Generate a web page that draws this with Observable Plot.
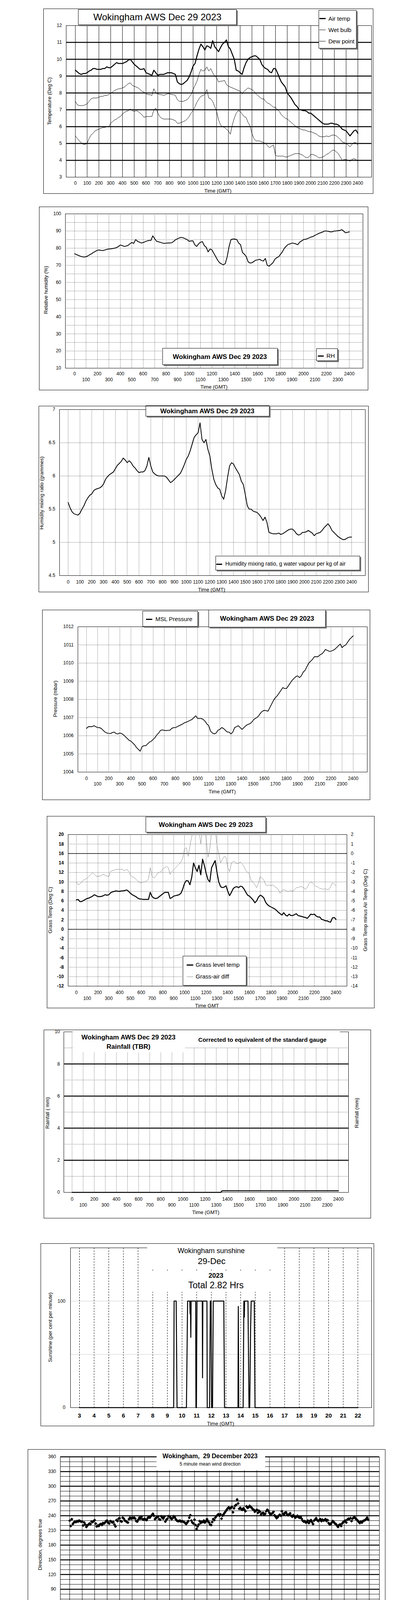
<!DOCTYPE html>
<html><head><meta charset="utf-8">
<script src="https://cdn.jsdelivr.net/npm/d3@7"></script>
<script src="https://cdn.jsdelivr.net/npm/@observablehq/plot@0.6"></script>
<style>
body{margin:0;background:#fff;}
#page{position:relative;width:1050px;height:5085px;overflow:hidden;background:#fff;font-family:'Liberation Sans',Arial,Helvetica,sans-serif;}
</style></head><body><div id="page"></div>
<script>
// ---------------- DATA ----------------
// 10-minute samples 00:00 .. 24:00 (145 values each)
const airTemp = [
9.35,9.25,9.15,9.1,9.15,9.15, 9.2,9.3,9.35,9.45,9.45,9.4, 9.4,9.4,9.45,9.45,9.55,9.5,
9.5,9.6,9.7,9.8,9.75,9.75, 9.75,9.8,9.85,9.95,10.0,9.85, 9.7,9.6,9.5,9.4,9.4,9.45,
9.2,9.15,9.1,9.05,9.35,9.2, 9.05,9.1,9.1,9.1,9.15,9.2, 9.2,9.2,9.15,9.1,8.65,8.55,
8.5,8.55,8.65,8.75,8.95,9.25, 9.6,9.75,10.2,10.6,10.9,10.75, 10.55,10.8,10.75,10.65,11.1,10.75,
10.6,10.45,10.7,10.9,11.0,11.15, 10.75,10.6,10.3,10.0,9.35,9.3, 9.2,9.1,9.5,9.8,10.0,10.1,
10.15,10.2,10.2,10.1,10.0,9.7, 9.55,9.45,9.4,9.25,9.2,9.45, 9.45,9.2,8.9,8.65,8.5,8.35,
8.0,7.85,7.7,7.5,7.3,7.2, 7.0,7.0,6.95,6.95,6.9,6.8, 6.8,6.7,6.6,6.5,6.4,6.3,
6.2,6.15,6.15,6.15,6.2,6.2, 6.15,6.15,6.1,6.0,5.85,5.8, 5.75,5.6,5.45,5.6,5.75,5.8, 5.6];
const wetBulb = [
7.5,7.3,7.25,7.25,7.25,7.3, 7.35,7.5,7.65,7.7,7.7,7.7, 7.75,7.8,7.8,7.85,7.85,7.9,
8.0,8.05,8.15,8.2,8.25,8.25, 8.3,8.35,8.45,8.55,8.6,8.45, 8.4,8.35,8.3,8.2,8.1,8.05,
7.95,7.9,7.9,7.85,8.25,8.0, 7.95,7.9,7.9,7.85,7.9,7.95, 7.95,7.9,7.9,7.85,7.6,7.5,
7.5,7.5,7.55,7.6,7.75,7.9, 8.2,8.45,8.7,9.1,9.4,9.3, 9.35,9.55,9.3,9.45,9.2,9.0,
8.9,8.65,8.7,8.7,8.75,8.5, 8.4,8.35,8.3,8.25,8.2,8.15, 8.1,7.95,8.1,8.2,8.3,8.25,
8.2,8.1,7.95,7.85,7.75,7.65, 7.65,7.5,7.4,7.35,7.25,7.15, 7.15,7.0,6.9,6.7,6.6,6.5,
6.45,6.35,6.25,6.15,6.05,5.95, 5.9,5.85,5.8,5.8,5.75,5.7, 5.7,5.65,5.6,5.55,5.45,5.4,
5.4,5.4,5.45,5.4,5.45,5.5, 5.5,5.45,5.35,5.25,5.1,5.05, 5.0,4.9,4.8,4.95,5.05,5.05, 4.9];
const dewPoint = [
5.45,5.3,5.15,5.05,4.95,4.95, 5.0,5.3,5.5,5.6,5.75,5.8, 5.85,5.9,5.95,5.95,6.0,6.0,
6.2,6.3,6.4,6.45,6.55,6.6, 6.75,6.85,6.9,6.95,7.05,6.95, 6.9,6.95,6.9,6.8,6.7,6.55,
6.6,6.6,6.6,6.6,7.0,7.1, 6.8,6.6,6.5,6.45,6.45,6.45, 6.45,6.45,6.4,6.35,6.2,6.2,
6.25,6.3,6.35,6.45,6.6,6.8, 6.95,7.2,7.45,7.65,7.8,7.85, 7.9,8.2,7.7,7.65,7.5,7.2,
6.9,6.4,6.1,6.0,5.95,5.85, 5.75,5.55,6.1,6.5,6.8,6.95, 6.9,6.75,6.6,6.55,6.25,6.05,
5.6,5.3,5.15,5.15,5.15,5.1, 5.05,5.0,4.85,4.75,4.85,4.9, 4.3,4.25,4.25,4.25,4.25,4.2,
4.2,4.25,4.3,4.35,4.4,4.4, 4.4,4.35,4.3,4.2,4.15,4.2, 4.35,4.35,4.3,4.25,4.15,4.15,
4.2,4.25,4.35,4.4,4.5,4.6, 4.6,4.5,4.4,4.2,4.0,4.05, 4.05,4.0,3.95,4.05,4.1,4.05, 3.95];
const relHumidity = [
76.8,76.2,75.8,75.3,75.0,74.8, 75.0,75.5,76.2,76.8,77.6,78.2, 78.8,78.9,78.7,78.6,79.0,79.3,
79.5,79.6,79.8,80.0,80.3,81.0, 81.8,81.5,81.0,81.2,81.6,82.5, 83.3,82.8,85.0,84.0,83.5,83.0,
83.3,83.8,84.2,84.5,84.5,87.2, 85.5,84.0,83.7,83.4,83.0,82.8, 82.9,83.0,83.0,83.2,84.0,85.0,
85.5,86.0,86.3,86.0,85.5,85.0, 84.0,84.2,84.3,82.0,81.0,82.5, 83.5,83.8,81.5,80.5,77.8,79.5,
79.0,77.0,75.0,73.0,71.5,70.8, 70.3,71.0,75.0,81.0,85.0,85.3, 85.3,85.0,83.0,82.0,77.5,76.5,
75.0,72.0,71.3,71.5,72.3,73.0, 73.2,73.5,72.8,72.5,74.0,70.0, 69.5,70.5,71.5,73.5,74.5,75.0,
76.5,78.0,80.0,81.2,82.2,82.5, 83.0,82.8,82.5,82.0,83.5,84.2, 85.0,85.2,85.5,86.0,86.5,86.8,
87.5,88.0,88.6,89.0,89.4,90.0, 90.0,89.8,89.5,89.5,90.0,90.0, 90.2,90.3,90.8,90.0,89.0,89.2, 89.5];
const mixingRatio = [
5.6,5.52,5.46,5.43,5.42,5.41, 5.44,5.5,5.55,5.62,5.67,5.71, 5.73,5.78,5.8,5.81,5.82,5.84,
5.88,5.95,5.99,6.02,6.04,6.06, 6.11,6.16,6.19,6.22,6.27,6.24, 6.2,6.23,6.2,6.15,6.12,6.08,
6.05,6.06,6.06,6.08,6.15,6.28, 6.15,6.06,6.03,6.01,6.0,6.0, 6.0,6.0,5.98,5.94,5.9,5.92,
5.95,5.98,6.01,6.04,6.1,6.17, 6.25,6.3,6.38,6.48,6.58,6.62, 6.65,6.8,6.55,6.5,6.55,6.4,
6.3,6.1,5.95,5.87,5.82,5.8, 5.7,5.65,5.78,5.98,6.15,6.2, 6.18,6.12,6.07,6.02,5.92,5.87,
5.72,5.55,5.5,5.5,5.47,5.46, 5.45,5.42,5.38,5.33,5.38,5.3, 5.15,5.14,5.13,5.13,5.13,5.14,
5.12,5.13,5.15,5.17,5.19,5.2, 5.2,5.17,5.13,5.11,5.12,5.15, 5.15,5.16,5.18,5.16,5.14,5.1,
5.13,5.14,5.15,5.18,5.22,5.25, 5.28,5.24,5.18,5.15,5.12,5.09, 5.07,5.05,5.04,5.05,5.07,5.08, 5.08];
const mslPressure = [
1006.4,1006.5,1006.5,1006.5,1006.55,1006.5, 1006.45,1006.45,1006.4,1006.3,1006.2,1006.15,
1006.13,1006.12,1006.18,1006.2,1006.12,1006.1, 1006.15,1006.12,1006.05,1005.95,1005.85,1005.75,
1005.7,1005.6,1005.5,1005.35,1005.25,1005.15, 1005.4,1005.45,1005.45,1005.55,1005.65,1005.7,
1005.8,1005.9,1006.05,1006.15,1006.3,1006.32, 1006.3,1006.28,1006.3,1006.3,1006.4,1006.45,
1006.45,1006.5,1006.55,1006.6,1006.65,1006.72, 1006.75,1006.8,1006.85,1006.9,1007.0,1007.1,
1006.95,1006.95,1006.95,1006.9,1006.8,1006.65, 1006.55,1006.25,1006.15,1006.1,1006.15,1006.3,
1006.35,1006.45,1006.4,1006.3,1006.2,1006.2, 1006.1,1006.2,1006.45,1006.5,1006.55,1006.45,
1006.35,1006.45,1006.55,1006.62,1006.65,1006.72, 1006.85,1006.95,1007.0,1007.1,1007.25,1007.35,
1007.4,1007.38,1007.35,1007.55,1007.75,1007.95, 1008.1,1008.2,1008.35,1008.5,1008.65,1008.6,
1008.6,1008.75,1008.9,1009.05,1009.15,1009.25, 1009.3,1009.2,1009.3,1009.5,1009.6,1009.8,
1010.0,1010.1,1010.2,1010.35,1010.35,1010.35, 1010.45,1010.5,1010.6,1010.75,1010.7,1010.65,
1010.65,1010.7,1010.75,1010.85,1010.95,1011.05, 1010.85,1010.95,1011.0,1011.15,1011.3,1011.4, 1011.5];
const grassTemp = [
6.2,6.3,5.85,5.85,6.1,6.3, 6.5,6.6,6.8,7.0,7.3,7.1, 6.9,6.9,6.95,7.1,7.3,7.2,
7.3,7.7,7.9,8.0,8.1,8.05, 8.0,8.1,8.1,8.2,8.3,8.0, 7.6,7.3,7.1,6.9,6.6,6.4,
6.4,6.3,6.3,6.3,6.3,7.8, 6.9,6.6,6.5,6.6,6.9,7.2, 7.5,7.8,7.8,7.8,6.5,6.7,
7.0,7.1,7.2,7.3,7.6,8.5, 9.7,10.3,10.2,9.4,11.0,14.0, 13.0,12.2,13.5,11.5,14.8,13.5,
11.8,10.5,10.0,13.0,13.8,14.5, 12.0,10.0,9.0,8.8,8.9,9.2, 8.0,7.1,7.8,8.6,8.9,9.0,
8.8,9.1,9.0,8.5,7.8,7.2, 7.0,6.6,6.2,5.6,6.0,6.8, 7.2,7.0,6.6,5.7,5.2,4.9,
4.7,4.5,4.3,4.0,3.6,3.3, 3.0,3.5,3.0,2.8,3.2,2.9, 2.9,3.1,3.3,2.9,2.8,2.7,
2.6,2.5,2.3,2.7,3.2,3.1, 3.2,2.8,2.6,2.6,2.1,2.0, 1.8,1.8,1.6,1.5,2.4,2.5, 2.1];
const grassAirDiff = [
-3.0,-3.3,-3.2,-3.0,-2.8,-2.7, -2.6,-2.4,-2.2,-2.0,-2.2,-2.4, -2.4,-2.4,-2.3,-2.2,-2.3,-2.4,
-2.4,-1.9,-1.8,-1.75,-1.7,-1.65, -1.7,-1.65,-1.75,-1.8,-1.65,-1.9, -2.3,-2.45,-2.55,-2.7,-2.9,-3.05,
-3.1,-3.0,-3.0,-2.9,-2.7,-1.5, -2.4,-2.6,-2.4,-2.1,-2.0,-1.9, -1.6,-1.5,-1.35,-1.5,-2.2,-1.9,
-1.7,-1.5,-1.3,-1.1,-0.9,-0.5, 0.5,0.6,-0.3,0.8,1.8,2.6, 2.8,2.4,2.6,1.0,2.5,2.7,
1.6,-0.4,0.5,2.3,2.7,2.6, 0.8,0.0,-1.0,-0.6,-0.3,-0.4, -1.5,-1.9,-1.0,-0.8,-0.9,-1.1,
-1.0,-0.9,-1.1,-1.4,-1.8,-2.0, -2.2,-2.9,-3.0,-3.3,-3.6,-3.1, -2.4,-2.6,-2.8,-3.3,-3.4,-3.3,
-3.4,-3.3,-3.5,-3.6,-3.8,-4.2, -3.9,-3.8,-3.9,-4.0,-4.0,-3.9, -4.0,-3.8,-3.6,-3.6,-3.5,-3.5,
-3.6,-3.8,-3.6,-3.2,-3.0,-3.1, -3.3,-3.5,-3.5,-3.7,-3.7,-3.8, -3.7,-3.8,-3.8,-3.5,-3.1,-3.2, -3.4];
// rainfall (cumulative, mm) at times in hhmm-scale
const rainTimes = [0, 1340, 1352, 2400];
const rainValues = [0, 0, 0.1, 0.1];
// sunshine, per cent per minute, at decimal hours
const sunHours = [3,9.43,9.46,9.6,9.62,9.66,10.3,10.38,10.53,10.55,10.57,10.6,10.62,10.93,10.95,10.98,11.02,11.38,11.4,11.42,11.7,11.72,11.88,11.93,11.98,12.02,12.08,12.13,12.85,12.9,13.82,13.84,13.87,14.17,14.22,14.25,14.27,14.3,14.5,14.57,14.62,14.68,14.72,14.93,14.98,22];
const sunPct = [0,0,100,100,68,0,0,100,100,88,100,66,100,100,0,0,100,100,28,100,100,0,0,100,100,0,0,100,100,0,0,95,0,0,100,85,100,100,100,0,0,75,100,100,0,0];
// 5-minute mean wind direction (288 values)
const windDir = [
230,219,233,223,226,228,227,229,228,230,229,228, 228,220,226,222,217,220,222,224,223,228,227,229,
231,224,218,220,219,222,223,221,225,224,226,229, 230,226,224,229,228,226,227,222,218,231,229,234,
235,229,228,236,234,230,229,227,226,233,236,234, 236,235,236,234,229,228,232,236,234,238,233,232,
234,232,231,235,238,236,239,241,244,240,233,236, 237,238,233,232,239,236,234,238,228,232,234,239,
238,236,233,235,239,237,233,230,229,229,230,228, 229,228,227,225,223,226,229,236,241,230,226,224,
232,221,213,218,222,229,225,228,227,230,226,229, 233,229,226,222,221,227,233,231,236,239,241,243,
240,243,234,240,243,246,249,252,255,257,254,256, 258,247,255,260,262,273,265,254,256,253,252,255,
252,249,259,256,257,260,258,256,253,252,248,250, 252,246,250,248,243,245,246,242,244,249,252,250,
246,243,244,245,248,241,238,235,237,240,242,240, 249,244,242,246,247,243,241,243,245,240,238,241,
239,236,238,240,237,236,238,234,230,228,229,226, 227,230,225,229,231,227,223,230,232,235,231,229,
231,233,229,232,230,231,233,229,231,225,222,223, 226,229,227,224,223,220,217,221,222,219,224,227,
228,230,226,232,234,233,235,229,234,236,237,234, 232,230,227,225,228,226,229,230,231,233,236,232];
// wind speed (knots), 6-minute samples (240 values)
const windMean = [
11.0,12.0,12.3,12.0,12.3,11.5,11.0,10.6,11.5,12.5, 12.2,11.0,9.9,10.5,11.0,11.5,12.5,12.8,13.5,14.5,
13.0,11.5,10.8,9.5,9.8,10.0,11.2,11.5,10.5,11.0, 12.2,11.8,11.5,11.3,11.8,11.2,10.0,9.2,8.5,7.5,
7.4,8.5,10.0,11.0,12.2,11.5,10.0,10.8,12.0,12.8, 12.5,11.5,11.0,10.0,10.5,11.2,10.5,10.2,11.0,10.5,
10.5,11.0,11.5,10.8,11.2,12.0,11.5,12.5,11.0,9.2, 9.0,9.5,9.8,9.0,8.5,8.2,8.5,8.0,7.5,7.6,
7.0,6.5,6.4,6.5,7.0,7.5,7.8,7.5,7.8,8.0, 7.8,8.0,8.2,7.8,8.0,8.3,8.0,7.5,7.0,6.8,
7.5,8.5,9.0,10.0,10.5,10.0,9.5,10.5,11.0,10.0, 9.5,10.5,11.0,10.5,9.2,9.8,10.5,11.5,12.0,12.5,
13.0,12.5,12.0,12.5,11.5,11.0,12.0,12.5,11.5,11.0, 11.2,10.5,9.8,8.8,9.0,9.5,8.8,8.3,8.5,9.0,
9.5,10.0,11.0,10.0,9.5,11.0,11.5,10.0,8.5,8.8, 9.8,12.0,12.5,12.0,10.5,9.5,9.0,10.0,10.5,10.8,
10.5,9.8,11.0,10.0,9.0,10.5,11.5,10.5,10.0,8.5, 10.5,11.5,11.8,10.5,11.0,11.5,10.5,10.0,9.8,9.5,
9.8,9.0,8.5,8.5,8.0,7.8,7.3,7.5,7.8,8.0, 8.2,8.0,7.5,7.8,7.5,7.2,7.0,6.5,6.5,6.8,
7.2,7.5,7.8,7.2,7.5,8.0,7.8,8.5,7.8,7.5, 7.8,7.0,6.5,6.8,7.5,7.8,7.2,6.8,6.5,6.6,
7.5,7.8,7.2,6.8,7.5,8.0,8.2,8.0,7.0,6.8, 6.8,7.0,7.5,7.8,8.0,8.2,8.0,7.6,8.0,7.5];
const windGust = [
20.2,15.5,23.3,16,22.8,15,21,14.5,21,14, 19,11.5,17,20,14,19.5,15,24,18,26.3,
17,18,12,16.5,13,19,12.5,21,14,19.5, 13.5,21.8,14,20,13,17.5,12,15,9,14,
11,14,17,12.5,19,13,20.8,14,20.5,14, 21.5,13,18,21,14,17.5,13,19,13,18,
12.5,17.5,13,17,13,18,14,22,15,15, 12,14,10.5,16,11,14,10,15.2,10,12,
9,11,8.5,12.5,9,12,9.5,13,9.5,12, 14.5,10,12,13,9.5,14,10,13,9,12.5,
10,13,11,15,12,16.5,12,17,13,19.5, 12,17,13,23.3,8,21,13,21.5,14,23,
15,22.5,14,21,22,15,21.5,14,20,14, 16,12,16.5,11,17,11,15,10.5,16,11,
17,12,18.5,13,22,13,22.5,12,19,12.5, 21,14,23.5,13,18.5,12,20,12,18,12.5,
20,12,19,12,17.5,11,19,12,20,9.5, 19,12.5,21,13,22,12.5,19,11,16,11,
16,10.5,15,10,14.5,9,14,9,13,9.5, 14.5,9,13,9,11.5,8.5,12,8,11.5,8,
12,8.5,13,9,12.5,9.5,11.5,9.5,12,9, 13,8.5,11,8,12,9,11.5,8,13,8,
12,9,12.5,9.5,12.5,9,11,9,14,8, 12,8,13,9,13.5,9.5,12.5,9,13,13];
// tick labels
const hhmmTicks = [0,100,200,300,400,500,600,700,800,900,1000,1100,1200,1300,1400,1500,1600,1700,1800,1900,2000,2100,2200,2300,2400];
const hhmmEven = [0,200,400,600,800,1000,1200,1400,1600,1800,2000,2200,2400];
const hhmmOdd = [100,300,500,700,900,1100,1300,1500,1700,1900,2100,2300];
const tempTicks = [3,4,5,6,7,8,9,10,11,12];
const rhTicks = [10,20,30,40,50,60,70,80,90,100];
const mixTicks = [4.5,5,5.5,6,6.5,7];
const pressTicks = [1004,1005,1006,1007,1008,1009,1010,1011,1012];
const grassTicks = [-12,-10,-8,-6,-4,-2,0,2,4,6,8,10,12,14,16,18,20];
const rainTicks = [0,2,4,6,8,10];
const sunYTicks = [0,100];
const sunXTicks = [3,4,5,6,7,8,9,10,11,12,13,14,15,16,17,18,19,20,21,22];
const dirTicks = [0,30,60,90,120,150,180,210,240,270,300,330,360];
const dirXTicks = [0,1,2,3,4,5,6,7,8,9,10,11,12,13,14,15,16,17,18,19,20,21,22,23,24];
const speedTicks = [0,10,20,30,40,50];
const speedEven = [0,2,4,6,8,10,12,14,16,18,20,22];
const speedOdd = [1,3,5,7,9,11,13,15,17,19,21,23];

// ---------------- HELPERS ----------------
const FONT = "'Liberation Sans', Arial, Helvetica, sans-serif";
const page = document.getElementById("page");
const t10 = airTemp.map((_, i) => i * 50 / 3);          // 10 min steps on the 0..2400 scale
const dirHours = windDir.map((_, i) => i / 12);
const speedHours = windMean.map((_, i) => i / 10);
const rows = (xs, ys) => xs.map((x, i) => ({x, y: ys[i]}));
const S = d => String(d);
const ax = (ticks, o = {}) => Plot.axisX({ticks, tickSize: 0, tickPadding: 11, tickFormat: S, fontSize: 12, label: null, ...o});
const ay = (ticks, o = {}) => Plot.axisY({ticks, tickSize: 0, tickPadding: 11, tickFormat: S, fontSize: 12, label: null, ...o});
const dotted = {stroke: "#000", strokeWidth: 1, strokeDasharray: "1,2"};
const frames = [];

function panel(cfg) {
  const [bx0, by0, bx1, by1] = cfg.border;
  const [px0, py0, px1, py1] = cfg.plot;
  const [a0p, a0v, a1p, a1v] = cfg.xa;
  const k = (a1p - a0p) / (a1v - a0v);
  const xd = [a0v - (a0p - px0) / k, a1v + (px1 - a1p) / k];
  const svg = Plot.plot({
    width: bx1 - bx0, height: by1 - by0,
    marginLeft: px0 - bx0, marginRight: bx1 - px1, marginTop: py0 - by0, marginBottom: by1 - py1,
    x: {domain: xd, axis: null},
    y: {domain: cfg.yd, axis: null},
    style: {fontFamily: FONT, fontSize: "12px", color: "#000", background: "transparent", overflow: "visible"},
    marks: cfg.marks
  });
  svg.style.position = "absolute";
  svg.style.left = bx0 + "px";
  svg.style.top = by0 + "px";
  page.appendChild(svg);
  frames.push(cfg.border);
}
function el(css, text) {
  const e = document.createElement("div");
  Object.assign(e.style, {position: "absolute"}, css);
  if (text != null) e.textContent = text;
  page.appendChild(e);
  return e;
}
function txt(x, y, s, size, o = {}) {
  return el({left: x + "px", top: y + "px", transform: o.rot ? "translate(-50%,-50%) rotate(-90deg)" : "translate(-50%,-50%)",
    fontSize: size + "px", fontWeight: o.bold ? "bold" : "normal", whiteSpace: "pre", lineHeight: "1", fontFamily: FONT, color: "#000"}, s);
}
function txtL(x, y, s, size, o = {}) {
  return el({left: x + "px", top: y + "px", transform: "translateY(-50%)", fontSize: size + "px", fontWeight: o.bold ? "bold" : "normal",
    whiteSpace: "pre", lineHeight: "1", fontFamily: FONT, color: "#000"}, s);
}
function box(x0, y0, x1, y1) {
  return el({left: x0 + "px", top: y0 + "px", width: (x1 - x0) + "px", height: (y1 - y0) + "px", background: "#fff",
    border: "1px solid #000", boxSizing: "border-box", boxShadow: "3px 3px 0 #7f7f7f"});
}
function white(x0, y0, x1, y1) {
  return el({left: x0 + "px", top: y0 + "px", width: (x1 - x0) + "px", height: (y1 - y0) + "px", background: "#fff"});
}
function hl(x0, x1, y, w, c = "#000") {
  return el({left: x0 + "px", top: (y - w / 2) + "px", width: (x1 - x0) + "px", height: w + "px", background: c});
}

// ---------------- PANEL 1: temperatures ----------------
panel({
  border: [111, 22, 956, 496], plot: [169, 65, 951, 453], xa: [192.5, 0, 916, 2400], yd: [3, 12],
  marks: [
    Plot.ruleX(hhmmTicks, {stroke: "#000", strokeWidth: 1}),
    Plot.ruleY([4, 5, 6, 7, 8, 9, 10, 11], {stroke: "#000", strokeWidth: 2.5}),
    Plot.frame({stroke: "#000"}),
    Plot.line(rows(t10, dewPoint), {x: "x", y: "y", stroke: "#000", strokeWidth: 1}),
    Plot.line(rows(t10, wetBulb), {x: "x", y: "y", stroke: "#000", strokeWidth: 1}),
    Plot.line(rows(t10, airTemp), {x: "x", y: "y", stroke: "#000", strokeWidth: 2.5}),
    ay(tempTicks),
    ax(hhmmTicks, {tickPadding: 11})
  ]
});
box(200, 24, 606, 64); txt(403, 44, "Wokingham AWS Dec 29 2023", 24);
box(816, 26, 913, 124);
hl(818, 834, 47, 3); txtL(841, 47, "Air temp", 15);
hl(818, 834, 76, 1); txtL(841, 76, "Wet bulb", 15);
hl(818, 834, 105, 1); txtL(841, 105, "Dew point", 15);
txt(558, 488, "Time (GMT)", 13);
txt(126, 259, "Temperature (Deg C)", 13, {rot: true});

// ---------------- PANEL 2: relative humidity ----------------
panel({
  border: [100, 529, 943, 999], plot: [167, 547, 929, 942], xa: [190.5, 0, 894, 2400], yd: [10, 100],
  marks: [
    Plot.ruleY([15, 20, 25, 30, 35, 40, 45, 50, 55, 60, 65, 70, 75, 80, 85, 90, 95], dotted),
    Plot.ruleX(hhmmTicks, dotted),
    Plot.frame({stroke: "#000"}),
    Plot.line(rows(t10, relHumidity), {x: "x", y: "y", stroke: "#000", strokeWidth: 2}),
    ay(rhTicks),
    ax(hhmmEven, {tickPadding: 10}),
    ax(hhmmOdd, {tickPadding: 25})
  ]
});
box(416, 891, 711, 934); txt(563, 913, "Wokingham AWS Dec 29 2023", 17, {bold: true});
box(810, 892, 865, 924); hl(814, 829, 911, 3); txtL(836, 910, "RH", 15);
txt(548, 990, "Time (GMT)", 13);
txt(117, 742, "Relative humidity (%)", 13, {rot: true});

// ---------------- PANEL 3: mixing ratio ----------------
panel({
  border: [99, 1039, 944, 1516], plot: [152, 1048, 935, 1473], xa: [174, 0, 900, 2400], yd: [4.5, 7],
  marks: [
    Plot.ruleY([5, 5.5, 6, 6.5], dotted),
    Plot.ruleX(hhmmTicks, dotted),
    Plot.frame({stroke: "#000"}),
    Plot.line(rows(t10, mixingRatio), {x: "x", y: "y", stroke: "#000", strokeWidth: 2}),
    ay(mixTicks),
    ax(hhmmTicks, {tickPadding: 12})
  ]
});
box(373, 1038, 690, 1066); txt(531, 1052, "Wokingham AWS Dec 29 2023", 17, {bold: true});
box(552, 1423, 922, 1460); hl(554, 569, 1444, 3); txtL(577, 1443, "Humidity mixing ratio, g water vapour per kg of air", 14);
txt(542, 1509, "Time (GMT)", 13);
txt(106, 1262, "Humidity mixing ratio (grammes)", 13, {rot: true});

// ---------------- PANEL 4: pressure ----------------
panel({
  border: [108, 1561, 948, 2048], plot: [199, 1604, 940, 1976], xa: [221, 0, 904, 2400], yd: [1004, 1012],
  marks: [
    Plot.ruleY([1005, 1006, 1007, 1008, 1009, 1010, 1011], dotted),
    Plot.ruleX(hhmmTicks, dotted),
    Plot.frame({stroke: "#000"}),
    Plot.line(rows(t10, mslPressure), {x: "x", y: "y", stroke: "#000", strokeWidth: 1.8}),
    ay(pressTicks),
    ax(hhmmEven, {tickPadding: 12}),
    ax(hhmmOdd, {tickPadding: 26})
  ]
});
box(365, 1564, 507, 1604); hl(374, 390, 1585, 3); txtL(398, 1584, "MSL Pressure", 15);
box(534, 1561, 834, 1606); txt(684, 1583, "Wokingham AWS Dec 29 2023", 17, {bold: true});
txt(569, 2026, "Time (GMT)", 13);
txt(141, 1789, "Pressure (mbar)", 13, {rot: true});

// ---------------- PANEL 5: grass temperature ----------------
panel({
  border: [120, 2089, 959, 2581], plot: [174, 2136, 888, 2524], xa: [195, 0, 860, 2400], yd: [-12, 20],
  marks: [
    Plot.ruleY([-10, -8, -6, -4, -2, 2, 4, 6, 8, 10, 12, 14, 18], dotted),
    Plot.ruleX(hhmmTicks, dotted),
    Plot.ruleY([0, 16], {stroke: "#000", strokeWidth: 1.5}),
    Plot.frame({stroke: "#000"}),
    Plot.line(rows(t10, grassAirDiff), {x: "x", y: d => 2 * d.y + 16, stroke: "#8c8c8c", strokeWidth: 1, clip: true}),
    Plot.line(rows(t10, grassTemp), {x: "x", y: "y", stroke: "#000", strokeWidth: 2.5}),
    ay(grassTicks, {fontWeight: "bold"}),
    ay(grassTicks, {anchor: "right", tickPadding: 10, tickFormat: v => String(v / 2 - 8)}),
    ax(hhmmEven, {tickPadding: 12}),
    ax(hhmmOdd, {tickPadding: 27})
  ]
});
box(373, 2091, 681, 2131); txt(527, 2111, "Wokingham AWS Dec 29 2023", 17, {bold: true});
box(468, 2447, 631, 2523);
hl(478, 495, 2470, 3); txtL(501, 2469, "Grass level temp", 15);
hl(478, 495, 2500, 1, "#8c8c8c"); txtL(501, 2499, "Grass-air diff", 15);
txt(530, 2574, "Time GMT", 13);
txt(128, 2330, "Grass Temp (Deg C)", 13, {rot: true});
txt(935, 2330, "Grass Temp minus Air Temp (Deg C)", 13, {rot: true});

// ---------------- PANEL 6: rainfall ----------------
panel({
  border: [112, 2636, 950, 3119], plot: [163, 2641, 892, 3052], xa: [184, 0, 866, 2400], yd: [0, 10],
  marks: [
    Plot.ruleY([1, 3, 5, 7, 9], dotted),
    Plot.ruleX(hhmmTicks, dotted),
    Plot.ruleY([2, 4, 6, 8], {stroke: "#000", strokeWidth: 2.5}),
    Plot.frame({stroke: "#000"}),
    Plot.line(rows(rainTimes, rainValues), {x: "x", y: "y", stroke: "#000", strokeWidth: 2.5}),
    ay(rainTicks, {tickPadding: 10}),
    ax(hhmmEven, {tickPadding: 13}),
    ax(hhmmOdd, {tickPadding: 28})
  ]
});
white(186, 2640, 473, 2695); white(473, 2640, 870, 2681);
txt(329, 2655, "Wokingham AWS Dec 29 2023", 17, {bold: true});
txt(329, 2679, "Rainfall (TBR)", 17, {bold: true});
txt(672, 2661, "Corrected to equivalent of the standard gauge", 15, {bold: true});
txt(527, 3103, "Time (GMT)", 13);
txt(121, 2849, "Rainfall ( mm)", 13, {rot: true});
txt(913, 2849, "Rainfall (mm)", 13, {rot: true});

// ---------------- PANEL 7: sunshine ----------------
panel({
  border: [104, 3183, 958, 3651], plot: [180, 3194, 951, 3603], xa: [203, 3, 916, 22], yd: [0, 150],
  marks: [
    Plot.ruleX(sunXTicks, {stroke: "#000", strokeWidth: 1, strokeDasharray: "4,3"}),
    Plot.ruleY([50, 100], {stroke: "#999", strokeWidth: 1, strokeDasharray: "1,1"}),
    Plot.frame({stroke: "#000"}),
    Plot.line(rows(sunHours, sunPct), {x: "x", y: "y", stroke: "#000", strokeWidth: 2.5}),
    ay(sunYTicks, {tickPadding: 13}),
    ax(sunXTicks, {tickPadding: 15, fontSize: 15, fontWeight: "bold"})
  ]
});
white(377, 3182, 710, 3248); white(390, 3253, 700, 3307);
txt(541, 3202, "Wokingham sunshine", 18);
txt(542, 3229, "29-Dec", 22);
txt(553, 3265, "2023", 17, {bold: true});
txt(553, 3290, "Total 2.82 Hrs", 23);
txt(565, 3644, "Time (GMT)", 13);
txt(128, 3398, "Sunshine (per cent per minute)", 13, {rot: true});

// ---------------- PANEL 8: wind direction ----------------
const thin10 = [10,20,40,50,70,80,100,110,130,140,160,170,190,200,220,230,250,260,280,290,310,320,340,350];
panel({
  border: [71, 3710, 987, 4229], plot: [154, 3729, 971, 4181], xa: [178, 0, 945, 24], yd: [0, 360],
  marks: [
    Plot.ruleY(thin10, {stroke: "#000", strokeWidth: 1}),
    Plot.ruleX(dirXTicks, {stroke: "#000", strokeWidth: 1}),
    Plot.ruleY(dirTicks, {stroke: "#000", strokeWidth: 2.5}),
    Plot.frame({stroke: "#000"}),
    Plot.dot(rows(dirHours, windDir), {x: "x", y: "y", symbol: "diamond2", r: 3.6, fill: "#000", stroke: "none"}),
    ay(dirTicks),
    ax(dirXTicks, {tickPadding: 11})
  ]
});
white(401, 3711, 679, 3764);
txt(538, 3728, "Wokingham,  29 December 2023", 16, {bold: true});
txt(538, 3748, "5 minute mean wind direction", 12);
txt(562, 4216, "Time (GMT)", 13);
txt(102, 3954, "Direction, degrees true", 13, {rot: true});

// ---------------- PANEL 9: wind speed ----------------
panel({
  border: [71, 4243, 987, 4738], plot: [129, 4283, 982, 4663], xa: [153, 0, 906, 23], yd: [0, 50],
  marks: [
    Plot.ruleY([5, 10, 15, 20, 25, 30, 35, 40, 45], dotted),
    Plot.ruleX([...speedEven, ...speedOdd], dotted),
    Plot.frame({stroke: "#000"}),
    Plot.line(rows(speedHours, windGust), {x: "x", y: "y", stroke: "#4d4d4d", strokeWidth: 1}),
    Plot.line(rows(speedHours, windMean), {x: "x", y: "y", stroke: "#000", strokeWidth: 2}),
    ay(speedTicks, {tickPadding: 13}),
    ax(speedEven, {tickPadding: 12, tickFormat: h => String(h).padStart(2, "0") + ":00"}),
    ax(speedOdd, {tickPadding: 26, tickFormat: h => String(h).padStart(2, "0") + ":00"})
  ]
});
white(141, 4281, 477, 4304);
txt(306, 4273, "Wokingham,  29 December 2023", 16, {bold: true});
txt(608, 4255, "Wind speed, 10 min mean / max gust", 12);
txt(608, 4273, "Speeds below 4 kt shown at x10 scale", 12);
box(762, 4249, 983, 4274);
hl(794, 806, 4262, 2); txtL(812, 4262, "Speed x 1", 9, {bold: true});
el({left: "883px", top: "4259px", width: "5px", height: "5px", border: "1px solid #000", transform: "rotate(45deg)", background: "#fff"});
txtL(897, 4262, "Speed / 10", 9, {bold: true});
txt(555, 4712, "Time (GMT)", 13);
txt(84, 4475, "Speed (knots)", 13, {rot: true});

// panel outer borders
for (const [x0, y0, x1, y1] of frames) {
  el({left: x0 + "px", top: y0 + "px", width: (x1 - x0) + "px", height: (y1 - y0) + "px", border: "1px solid #000", boxSizing: "border-box", pointerEvents: "none"});
}
</script></body></html>
